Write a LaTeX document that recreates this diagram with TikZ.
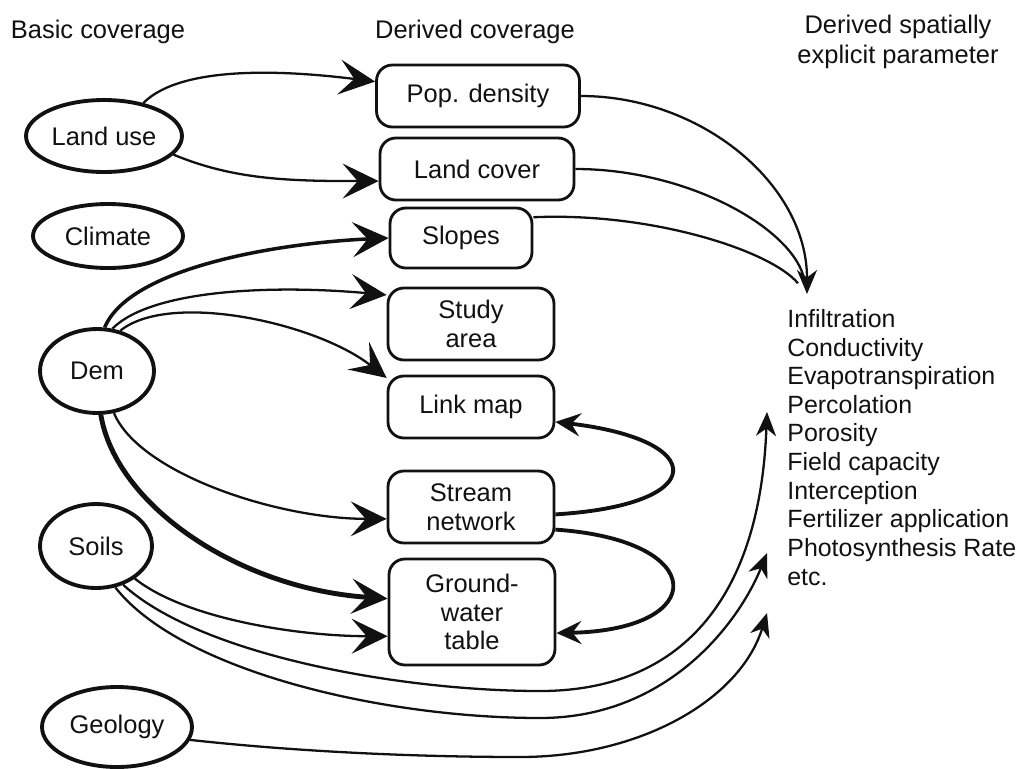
\documentclass[tikz,border=0pt]{standalone}
\usepackage{fontspec}
\setmainfont{Liberation Sans}
\usetikzlibrary{arrows.meta,shapes.geometric}
\definecolor{Ink}{HTML}{111111}
\tikzset{
  basic/.style={
    ellipse, draw=Ink, line width=2.2pt, inner sep=0pt, align=center
  },
  derived/.style={
    rounded corners=9pt, draw=Ink, line width=1.6pt, inner sep=0pt, align=center
  },
  heading/.style={align=center, font=\fontsize{14.5}{17}\selectfont},
  feed/.style={-{Stealth[length=0.72cm, width=0.7cm, inset=0.3cm]}, line width=1.3pt, draw=Ink},
  heavyfeed/.style={feed, line width=2.8pt},
  loopfeed/.style={-{Stealth[length=0.5cm, width=0.46cm, inset=0.18cm]}, line width=2.2pt, draw=Ink},
  paramfeed/.style={-{Stealth[length=0.48cm, width=0.4cm, inset=0.15cm]}, line width=1.3pt, draw=Ink},
  merge/.style={line width=1.3pt, draw=Ink, shorten >=8pt}
}
\begin{document}
\begin{tikzpicture}[x=0.02cm, y=-0.02cm,
    every node/.style={font=\fontsize{14.5}{16.4}\selectfont, text=Ink}]
  \useasboundingbox (0,0) rectangle (1021,768);

  \node[heading] (basichead) at (98,32) {Basic coverage};
  \node[heading] (derivedhead) at (475,32) {Derived coverage};
  \node[heading] (paramhead) at (898,42) {Derived spatially\\explicit parameter};

  \node[basic, minimum width=3.12cm, minimum height=1.44cm] (landuse) at (104,136) {Land use};
  \node[basic, minimum width=3.0cm, minimum height=1.28cm] (climate) at (108,236) {Climate};
  \node[basic, minimum width=2.28cm, minimum height=1.68cm] (dem) at (97,371) {Dem};
  \node[basic, minimum width=2.24cm, minimum height=1.68cm] (soils) at (96,546) {Soils};
  \node[basic, minimum width=3.0cm, minimum height=1.6cm] (geology) at (117,727) {Geology};

  \node[derived, minimum width=4.06cm, minimum height=1.24cm] (pop) at (478,96) {Pop. density};
  \node[derived, minimum width=3.88cm, minimum height=1.24cm] (cover) at (477,169) {Land cover};
  \node[derived, minimum width=2.84cm, minimum height=1.2cm] (slopes) at (461,238) {Slopes};
  \node[derived, minimum width=3.32cm, minimum height=1.44cm] (study) at (471,324) {Study\\area};
  \node[derived, minimum width=3.32cm, minimum height=1.24cm] (linkmap) at (471,407) {Link map};
  \node[derived, minimum width=3.32cm, minimum height=1.44cm] (stream) at (471,507) {Stream\\network};
  \node[derived, minimum width=3.32cm, minimum height=2.12cm] (gwt) at (472,612) {Ground-\\water\\table};

  \node[anchor=north west, align=left, inner sep=0pt,
        font=\fontsize{14.2}{16.3}\selectfont] (params) at (787,309)
    {Infiltration\\Conductivity\\Evapotranspiration\\Percolation\\Porosity\\Field capacity\\Interception\\Fertilizer application\\Photosynthesis Rate\\etc.};

  \coordinate (intoinfil) at (807,294);
  \coordinate (intoperc) at (767,412);
  \coordinate (intophoto) at (767,553);
  \coordinate (intoetc) at (767,613);

  \draw[feed] (landuse.40) .. controls +(40,-40) and +(-80,-10) .. (pop.172);
  \draw[feed] (landuse.-15) .. controls +(60,25) and +(-90,0) .. (cover.187);
  \draw[feed, line width=2pt] (dem.80) .. controls +(25,-60) and +(-110,5) .. (slopes.west);
  \draw[feed] (dem.70) .. controls +(40,-40) and +(-110,-10) .. (study.161);
  \draw[feed] (dem.60) .. controls +(50,-40) and +(-70,-55) .. (linkmap.161);
  \draw[feed] (dem.-68) .. controls +(25,60) and +(-110,0) .. (stream.188);
  \draw[heavyfeed] (dem.-85) .. controls +(15,90) and +(-150,-10) .. (gwt.171);
  \draw[feed] (soils.-40) .. controls +(50,40) and +(-90,0) .. (gwt.196);

  \draw[paramfeed] (soils.-55) .. controls (200,655) and (400,691) .. (540,691)
    .. controls (680,691) and (760,600) .. (intoperc);
  \draw[paramfeed] (soils.-65) .. controls (180,670) and (380,718) .. (540,718)
    .. controls (670,718) and (740,620) .. (intophoto);
  \draw[paramfeed] (geology.-10) .. controls (300,752) and (420,757) .. (520,757)
    .. controls (640,757) and (740,700) .. (intoetc);

  \draw[paramfeed] (pop.east) .. controls +(120,0) and +(0,-110) .. (intoinfil);
  \draw[merge] (cover.east) .. controls (690,169) and (795,230) .. (intoinfil);
  \draw[merge] (slopes.16) .. controls (650,212) and (770,250) .. (intoinfil);

  \draw[loopfeed] (stream.-5) .. controls (710,505) and (710,440) .. (linkmap.-10);
  \draw[loopfeed] (stream.-15) .. controls (710,540) and (710,630) .. (gwt.-14);
\end{tikzpicture}
\end{document}
